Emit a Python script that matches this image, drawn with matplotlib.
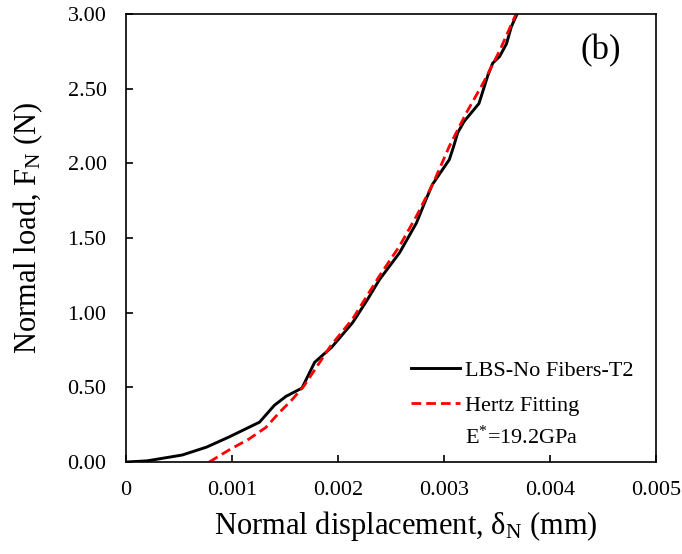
import matplotlib
matplotlib.use("Agg")
import matplotlib.pyplot as plt
from matplotlib.ticker import FixedLocator, FuncFormatter

plt.rcParams['font.family'] = ['Liberation Serif', 'DejaVu Serif']
plt.rcParams['mathtext.fontset'] = 'custom'
plt.rcParams['mathtext.rm'] = 'Liberation Serif'
plt.rcParams['mathtext.it'] = 'Liberation Serif:italic'

# Measured curve (LBS-No Fibers-T2)
disp_meas = [0, 0.0002, 0.00053, 0.00076, 0.00097, 0.00126, 0.0014, 0.00151, 0.00166,
             0.00178, 0.00194, 0.00214, 0.00228, 0.00239, 0.00258, 0.00274, 0.00283,
             0.00289, 0.00305, 0.00309, 0.00313, 0.00319, 0.00333, 0.003415, 0.00346,
             0.003525, 0.00359, 0.003636, 0.00369]
load_meas = [0, 0.008, 0.047, 0.10, 0.167, 0.267, 0.38, 0.44, 0.495,
             0.668, 0.768, 0.935, 1.09, 1.22, 1.40, 1.60, 1.757,
             1.857, 2.024, 2.11, 2.205, 2.28, 2.40, 2.59, 2.67,
             2.715, 2.80, 2.915, 3.0]

# Hertz fitting curve
disp_hertz = [0.000785, 0.00097, 0.00116, 0.00132, 0.00145, 0.00157, 0.00168, 0.00193,
              0.00214, 0.00239, 0.00258, 0.00274, 0.0029, 0.00305, 0.00321, 0.00337,
              0.00353, 0.00368]
load_hertz = [0.0, 0.08, 0.154, 0.232, 0.334, 0.42, 0.51, 0.777,
              0.96, 1.245, 1.445, 1.646, 1.869, 2.113, 2.336, 2.537,
              2.76, 3.0]

x_ticks = [0, 0.001, 0.002, 0.003, 0.004, 0.005]
y_ticks = [0.0, 0.5, 1.0, 1.5, 2.0, 2.5, 3.0]

fig = plt.figure(figsize=(6.82, 5.54), dpi=100)
ax = fig.add_axes([0.1848, 0.166, 0.777, 0.809])

ax.plot(disp_meas, load_meas, color='black', lw=2.1, label='LBS-No Fibers-T2')
ax.plot(disp_hertz, load_hertz, color='#ff0000', lw=2.0, ls=(0, (3.5, 1.8)),
        label='Hertz Fitting')

ax.set_xlim(0, 0.005)
ax.set_ylim(0, 3.0)
ax.xaxis.set_major_locator(FixedLocator(x_ticks))
ax.yaxis.set_major_locator(FixedLocator(y_ticks))
ax.xaxis.set_major_formatter(FuncFormatter(lambda v, p: '0' if v == 0 else f'{v:.3f}'))
ax.yaxis.set_major_formatter(FuncFormatter(lambda v, p: f'{v:.2f}'))
ax.tick_params(direction='in', length=5, width=1.2, labelsize=16, pad=14,
               top=False, right=False)
for s in ax.spines.values():
    s.set_linewidth(1.2)

ax.set_xlabel('Normal displacement, δ$_{\\mathrm{N}}$ (mm)', fontsize=22)
ax.set_ylabel('Normal load, F$_{\\mathrm{N}}$ (N)', fontsize=22)
ax.xaxis.set_label_coords(0.528, -0.105)
ax.yaxis.set_label_coords(-0.153, 0.522)

ax.text((621 - 126) / 530, (462 - 51) / 448, '(b)', transform=ax.transAxes,
        fontsize=25, ha='right', va='center')

leg = ax.legend(loc='upper left', bbox_to_anchor=((411 - 126) / 530, (462 - 360) / 448),
                frameon=False, fontsize=16, handlelength=2.2, handletextpad=0.25,
                labelspacing=0.68, borderaxespad=0.0, borderpad=0.0)
ax.text((465 - 126) / 530, (462 - 437) / 448, 'E$^{*}$=19.2GPa', transform=ax.transAxes,
        fontsize=16, ha='left', va='center')

fig.savefig('out.png', dpi=100)
